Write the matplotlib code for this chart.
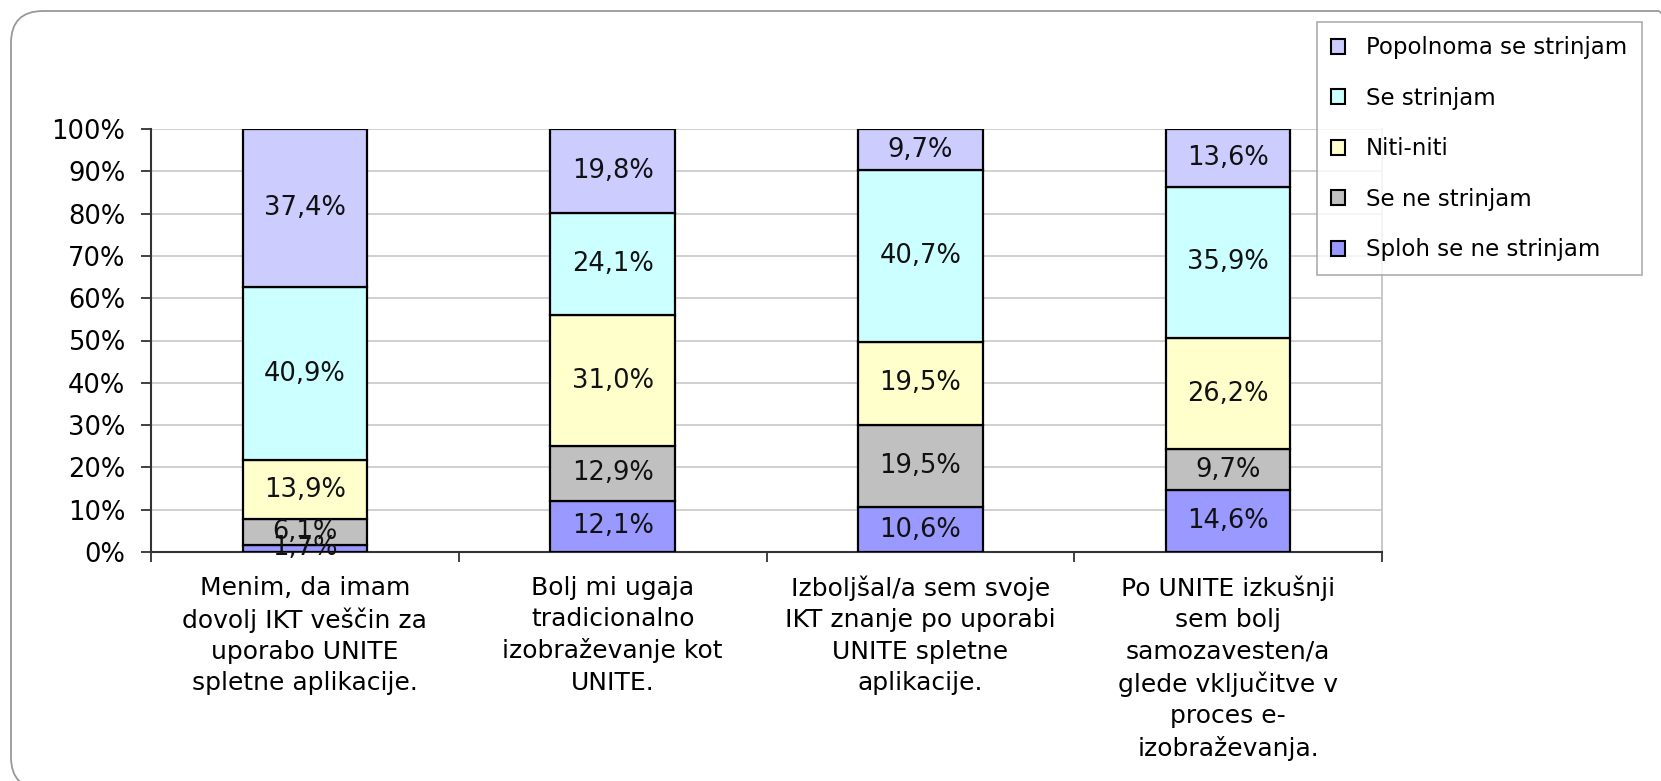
import numpy as np
import matplotlib
matplotlib.use("Agg")
import matplotlib.pyplot as plt
from matplotlib.patches import FancyBboxPatch
from matplotlib.ticker import FixedLocator

plt.rcParams['font.family'] = ['DejaVu Sans']

categories = [
    "Menim, da imam\ndovolj IKT veščin za\nuporabo UNITE\nspletne aplikacije.",
    "Bolj mi ugaja\ntradicionalno\nizobraževanje kot\nUNITE.",
    "Izboljšal/a sem svoje\nIKT znanje po uporabi\nUNITE spletne\naplikacije.",
    "Po UNITE izkušnji\nsem bolj\nsamozavesten/a\nglede vključitve v\nproces e-\nizobraževanja.",
]
series_names = ["Sploh se ne strinjam", "Se ne strinjam", "Niti-niti",
                "Se strinjam", "Popolnoma se strinjam"]
sploh = [1.7, 12.1, 10.6, 14.6]
se_ne = [6.1, 12.9, 19.5, 9.7]
niti = [13.9, 31.0, 19.5, 26.2]
se_str = [40.9, 24.1, 40.7, 35.9]
popolnoma = [37.4, 19.8, 9.7, 13.6]
colors = ["#9999FF", "#C0C0C0", "#FFFFCC", "#CCFFFF", "#CCCCFF"]
yticks = [0, 10, 20, 30, 40, 50, 60, 70, 80, 90, 100]

W, H, DPI = 1661, 781, 100
fig = plt.figure(figsize=(W / DPI, H / DPI), dpi=DPI)
fig.patch.set_facecolor("white")

# outer rounded frame
frame = FancyBboxPatch((11 / DPI, -8 / DPI), (1690 - 11) / DPI, (770 + 8) / DPI,
                       boxstyle="round,pad=0,rounding_size=0.32",
                       transform=fig.dpi_scale_trans, facecolor="none",
                       edgecolor="#999999", linewidth=1.3, zorder=-10)
fig.patches.append(frame)

ax_l, ax_r, ax_t, ax_b = 151, 1382, 129, 552
ax = fig.add_axes([ax_l / W, 1 - ax_b / H, (ax_r - ax_l) / W, (ax_b - ax_t) / H])
ax.set_facecolor("none")

data = np.array([sploh, se_ne, niti, se_str, popolnoma], dtype=float)
data_pct = data / data.sum(axis=0) * 100.0
x = np.arange(len(categories))
bottom = np.zeros(len(categories))
handles = []
for i, name in enumerate(series_names):
    bars = ax.bar(x, data_pct[i], 0.405, bottom=bottom, color=colors[i],
                  edgecolor="black", linewidth=1.6, label=name, zorder=3)
    labels = [f"{v:.1f}".replace(".", ",") + "%" for v in data[i]]
    ax.bar_label(bars, labels=labels, label_type="center", fontsize=18.5,
                 color="#111111", zorder=4)
    handles.append(bars)
    bottom += data_pct[i]

ax.set_xlim(-0.5, len(categories) - 0.5)
ax.set_ylim(0, 100)
ax.yaxis.set_major_locator(FixedLocator(yticks))
ax.set_yticklabels([f"{t}%" for t in yticks], fontsize=18.5)
ax.tick_params(axis="y", length=7, width=1.3, color="#333333", pad=11.5)
ax.set_xticks(x)
ax.set_xticklabels(categories, fontsize=18, linespacing=1.38)
ax.tick_params(axis="x", which="major", length=0, pad=17)
ax.set_xticks(np.arange(-0.5, len(categories) + 0.5, 1.0), minor=True)
ax.tick_params(axis="x", which="minor", length=7, width=1.3, color="#333333")

ax.grid(axis="y", color="#D0D0D0", linewidth=1.4, zorder=0)
ax.set_axisbelow(True)
for s in ["left", "bottom"]:
    ax.spines[s].set_color("#333333")
    ax.spines[s].set_linewidth(1.5)
ax.spines["top"].set_visible(False)
ax.spines["right"].set_color("#C8C8C8")
ax.spines["right"].set_linewidth(1.4)

leg = fig.legend(handles[::-1], series_names[::-1], loc="upper left",
                 bbox_to_anchor=(1317 / W, 1 - 22 / H), fontsize=16.5,
                 frameon=True, fancybox=False, edgecolor="#999999",
                 handlelength=0.62, handleheight=0.62, handletextpad=0.9,
                 labelspacing=1.2, borderpad=0.62, borderaxespad=0)
leg.get_frame().set_linewidth(1.2)
for p in leg.get_patches():
    p.set_linewidth(1.5)

fig.savefig("out.png", dpi=DPI, facecolor="white")
